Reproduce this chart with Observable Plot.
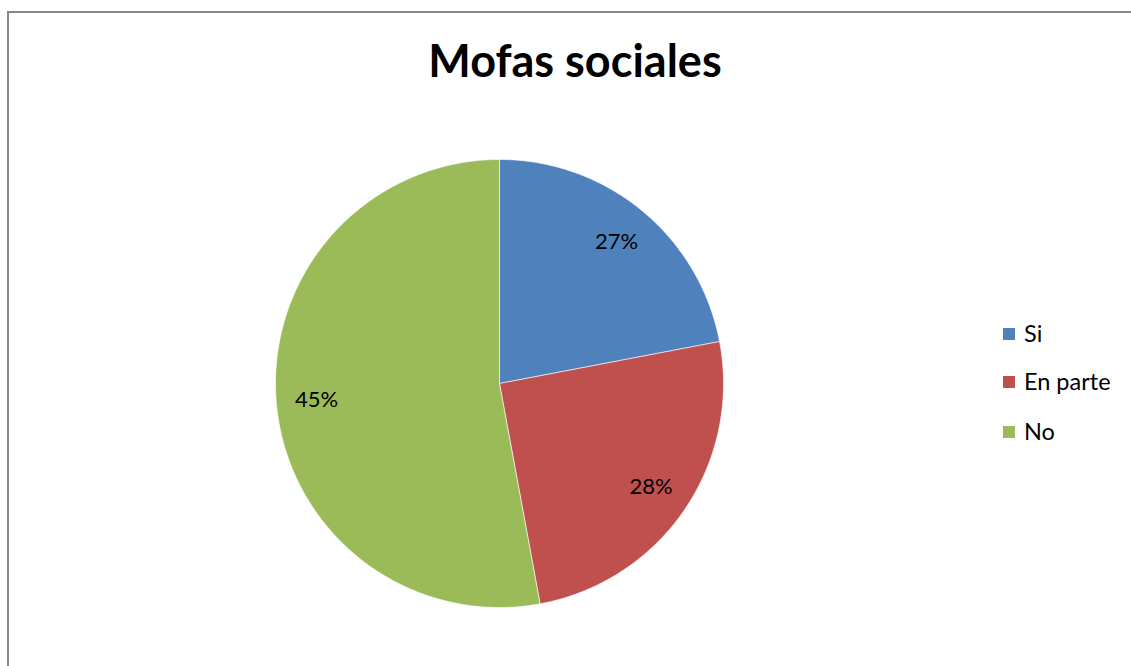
<!DOCTYPE html>
<html><head><meta charset="utf-8">
<script src="https://cdn.jsdelivr.net/npm/d3@7"></script>
<script src="https://cdn.jsdelivr.net/npm/@observablehq/plot@0.6"></script>
<style>
html,body{margin:0;padding:0;background:#fff;}
#wrap{position:relative;width:1131px;height:666px;overflow:hidden;font-family:Lato,"Open Sans",sans-serif;}
#frame{position:absolute;left:7px;top:11px;width:1200px;height:800px;border:2px solid #878787;box-sizing:border-box;}
#title{position:absolute;left:0;width:1150px;top:33px;text-align:center;font-weight:bold;font-size:45px;color:#000;}
#chart{position:absolute;left:0;top:0;}
.leg{position:absolute;left:1003px;font-size:23.5px;color:#000;line-height:1;}
.leg span.sw{position:absolute;left:0;width:12px;height:12px;}
.leg span.tx{position:absolute;left:21px;top:-6px;white-space:nowrap;}
</style></head>
<body><div id="wrap"><div id="frame"></div><div id="title">Mofas sociales</div><div id="chart"></div></div>
<script>
const categories = ["Si", "En parte", "No"];
const sliceValues = [22, 25.1, 52.9];
const labelTexts = ["27%", "28%", "45%"];
const colors = ["#4F81BD", "#C0504D", "#9BBB59"];

const data = categories.map((c, i) => ({cat: c, value: sliceValues[i], label: labelTexts[i]}));
const arcs = d3.pie().sort(null).value(d => d.value)(data);

const poly = [];
arcs.forEach(a => {
  const n = 200;
  poly.push({cat: a.data.cat, x: 0, y: 0});
  for (let k = 0; k <= n; k++) {
    const t = a.startAngle + (a.endAngle - a.startAngle) * k / n;
    poly.push({cat: a.data.cat, x: Math.sin(t), y: Math.cos(t)});
  }
  poly.push({cat: a.data.cat, x: 0, y: 0});
});
const lr = 0.82;
const labels = arcs.map(a => {
  const m = (a.startAngle + a.endAngle) / 2;
  return {label: a.data.label, x: lr * Math.sin(m), y: lr * Math.cos(m)};
});

const plot = Plot.plot({
  width: 1131, height: 666, margin: 0,
  x: {domain: [-1, 1], range: [275, 723], axis: null},
  y: {domain: [-1, 1], range: [607, 159], axis: null},
  color: {domain: categories, range: colors},
  style: {background: "transparent", fontFamily: "Lato, 'Open Sans', sans-serif"},
  marks: [
    Plot.line(poly, {x: "x", y: "y", z: "cat", fill: "cat", stroke: "white", strokeWidth: 0.6, curve: "linear"}),
    Plot.text(labels, {x: "x", y: "y", text: "label", fontSize: 22, fill: "black"})
  ]
});
document.getElementById("chart").appendChild(plot);

const wrap = document.getElementById("wrap");
const legTops = [328, 376, 426];
categories.forEach((c, i) => {
  const d = document.createElement("div");
  d.className = "leg";
  d.style.top = legTops[i] + "px";
  d.innerHTML = `<span class="sw" style="background:${colors[i]}"></span><span class="tx">${c}</span>`;
  wrap.appendChild(d);
});
</script></body></html>
